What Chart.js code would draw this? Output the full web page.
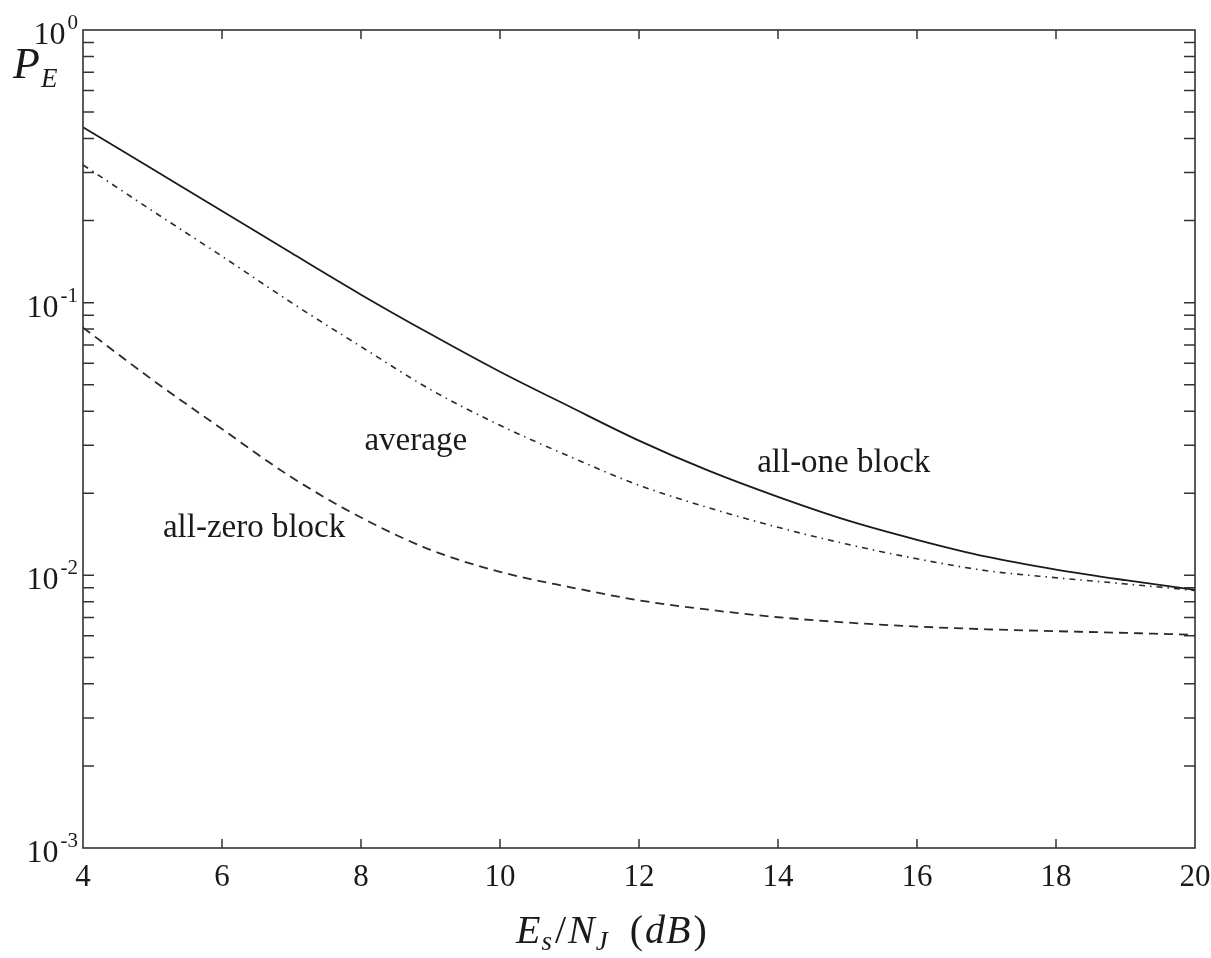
<!DOCTYPE html>
<html>
<head>
<meta charset="utf-8">
<script src="https://cdn.jsdelivr.net/npm/chart.js@4.4.0/dist/chart.umd.min.js"></script>
<style>
  body { margin: 0; background: #fff; }
  canvas { display: block; }
</style>
</head>
<body>
<canvas id="peChart" width="1211" height="958"></canvas>
<script>
// Es/NJ in dB
var xValues = [4, 5, 6, 7, 8, 9, 10, 11, 12, 13, 14, 15, 16, 17, 18, 19, 20];
// probability of error
var allOne  = [0.44, 0.309, 0.217, 0.152, 0.107, 0.0767, 0.0558, 0.0416, 0.0312, 0.0242, 0.0194, 0.0159, 0.0135, 0.0117, 0.0105, 0.0096, 0.00885];
var average = [0.32, 0.217, 0.148, 0.100, 0.069, 0.048, 0.0355, 0.0273, 0.0214, 0.0177, 0.0150, 0.0130, 0.0115, 0.0104, 0.0098, 0.0093, 0.0088];
var allZero = [0.081, 0.0521, 0.0344, 0.0229, 0.0163, 0.0124, 0.0103, 0.00906, 0.0081, 0.00748, 0.00702, 0.00671, 0.00649, 0.00634, 0.00624, 0.00615, 0.00605];

var xTicks = [4, 6, 8, 10, 12, 14, 16, 18, 20];
var yDecades = [1, 0.1, 0.01, 0.001];
var yExponents = ['0', '-1', '-2', '-3'];

// curve labels, placed in data units
var curveLabels = [
  { text: 'average', x: 8.05, y: 0.0288 },
  { text: 'all-one block', x: 13.7, y: 0.0239 },
  { text: 'all-zero block', x: 5.15, y: 0.0138 }
];

function pts(ys) {
  return xValues.map(function (x, i) { return { x: x, y: ys[i] }; });
}

var ink = '#1a1a1a';
var serif = '"Liberation Serif", "DejaVu Serif", serif';

var framePlugin = {
  id: 'frame',
  afterDraw: function (chart) {
    var ctx = chart.ctx;
    var a = chart.chartArea;
    var xs = chart.scales.x, ys = chart.scales.y;
    ctx.save();
    ctx.strokeStyle = '#333';
    ctx.lineWidth = 1.6;
    ctx.strokeRect(a.left, a.top, a.right - a.left, a.bottom - a.top);

    // inward ticks on left and right, minors at 2..9
    ctx.lineWidth = 1.5;
    for (var d = 0.001; d < 1; d *= 10) {
      for (var k = 1; k <= 9; k++) {
        var py = ys.getPixelForValue(d * k);
        if (k == 1 && d < 0.002) continue;
        ctx.beginPath();
        ctx.moveTo(a.left, py); ctx.lineTo(a.left + 11, py);
        ctx.moveTo(a.right, py); ctx.lineTo(a.right - 11, py);
        ctx.stroke();
      }
    }
    // x ticks top and bottom
    xTicks.forEach(function (t) {
      var px = xs.getPixelForValue(t);
      if (t == xTicks[0] || t == xTicks[xTicks.length - 1]) return;
      ctx.beginPath();
      ctx.moveTo(px, a.bottom); ctx.lineTo(px, a.bottom - 9);
      ctx.moveTo(px, a.top); ctx.lineTo(px, a.top + 9);
      ctx.stroke();
    });

    // tick labels
    ctx.fillStyle = ink;
    ctx.font = '31px ' + serif;
    ctx.textAlign = 'center';
    ctx.textBaseline = 'alphabetic';
    xTicks.forEach(function (t) {
      ctx.fillText(String(t), xs.getPixelForValue(t), a.bottom + 38);
    });
    yDecades.forEach(function (v, i) {
      var py = ys.getPixelForValue(v);
      ctx.font = '21px ' + serif;
      ctx.textAlign = 'right';
      var supW = ctx.measureText(yExponents[i]).width;
      ctx.fillText(yExponents[i], 78, py - 1);
      ctx.font = '32px ' + serif;
      ctx.fillText('10', 78 - supW - 2, py + 14);
    });

    // curve labels
    ctx.font = '33px ' + serif;
    ctx.textAlign = 'left';
    curveLabels.forEach(function (l) {
      ctx.fillText(l.text, xs.getPixelForValue(l.x), ys.getPixelForValue(l.y));
    });

    // y title P_E
    ctx.font = 'italic 44px ' + serif;
    ctx.fillText('P', 13, 78);
    ctx.font = 'italic 27px ' + serif;
    ctx.fillText('E', 41, 87);

    // x title E_s/N_J (dB)
    var x0 = 516, base = 943;
    var parts = [
      ['italic 40px', 'E', 0, 1], ['italic 27px', 's', 7, 3], ['40px', '/', 0, 2],
      ['italic 40px', 'N', 0, 1], ['italic 27px', 'J', 7, 22], ['40px', '(', 0, 2],
      ['italic 40px', 'd', 0, 1], ['italic 40px', 'B', 0, 3], ['40px', ')', 0, 0]
    ];
    parts.forEach(function (p) {
      ctx.font = p[0] + ' ' + serif;
      ctx.fillText(p[1], x0, base + p[2]);
      x0 += ctx.measureText(p[1]).width + p[3];
    });
    ctx.restore();
  }
};

var myChart = new Chart(document.getElementById('peChart').getContext('2d'), {
  type: 'line',
  data: {
    datasets: [{
      label: 'all-one block',
      data: pts(allOne),
      borderColor: ink,
      borderWidth: 1.8,
      pointRadius: 0,
      cubicInterpolationMode: 'monotone'
    }, {
      label: 'average',
      data: pts(average),
      borderColor: '#2a2a2a',
      borderWidth: 1.6,
      borderDash: [6, 5, 1.5, 5],
      pointRadius: 0,
      cubicInterpolationMode: 'monotone'
    }, {
      label: 'all-zero block',
      data: pts(allZero),
      borderColor: '#2a2a2a',
      borderWidth: 1.8,
      borderDash: [9, 6],
      pointRadius: 0,
      cubicInterpolationMode: 'monotone'
    }]
  },
  options: {
    responsive: false,
    animation: false,
    layout: { padding: { left: 0, right: 16, top: 30, bottom: 0 } },
    plugins: { legend: { display: false }, tooltip: { enabled: false } },
    scales: {
      x: {
        type: 'linear',
        min: 4,
        max: 20,
        grid: { display: false },
        border: { display: false },
        ticks: { display: false },
        afterFit: function (s) { s.height = 110; }
      },
      y: {
        type: 'logarithmic',
        min: 0.001,
        max: 1,
        grid: { display: false },
        border: { display: false },
        ticks: { display: false },
        afterFit: function (s) { s.width = 83; }
      }
    }
  },
  plugins: [framePlugin]
});
</script>
</body>
</html>
